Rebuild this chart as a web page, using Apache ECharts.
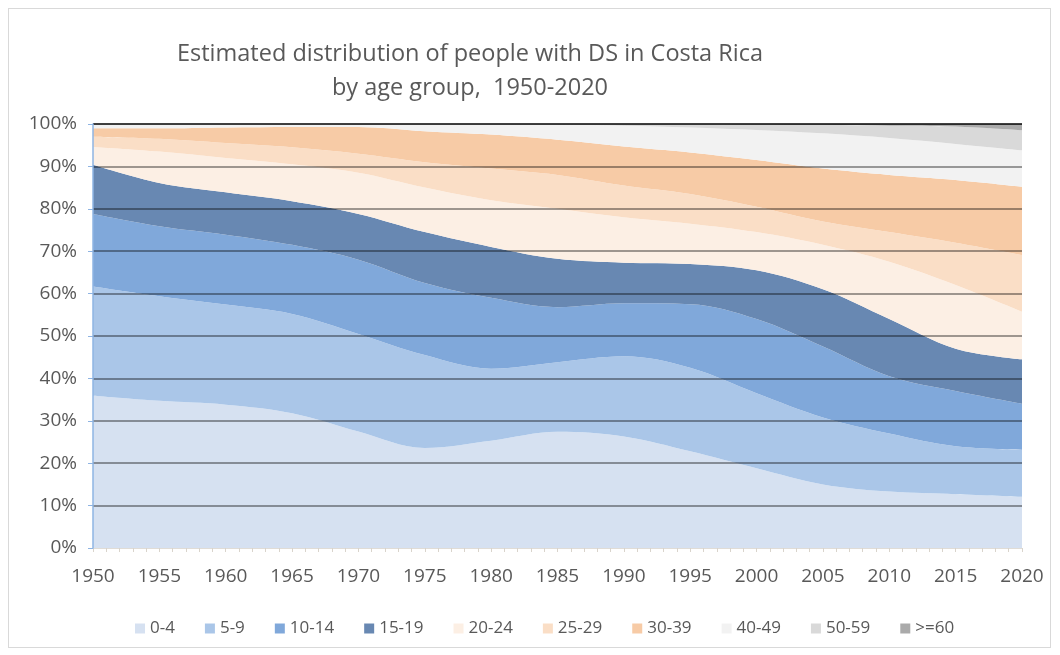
<!DOCTYPE html>
<html>
<head>
<meta charset="utf-8">
<script src="https://cdn.jsdelivr.net/npm/echarts@6/dist/echarts.min.js"></script>
<style>
html,body{margin:0;padding:0;background:#fff;}
#frame{position:absolute;left:8px;top:8px;width:1043px;height:640px;border:1px solid #d9d9d9;box-sizing:border-box;}
#chart{position:absolute;left:0;top:0;width:1060px;height:655px;}
</style>
</head>
<body>
<div id="frame"></div>
<div id="chart"></div>
<script>
// Years (categories)
const years = ['1950','1955','1960','1965','1970','1975','1980','1985','1990','1995','2000','2005','2010','2015','2020'];
// Age groups
const groups = ['0-4','5-9','10-14','15-19','20-24','25-29','30-39','40-49','50-59','>=60'];
// Share (%) of each age group per year
const age0_4   = [35.9,34.7,33.8,31.8,27.5,23.6,25.3,27.4,26.3,22.8,18.8,15.0,13.3,12.7,12.1];
const age5_9   = [25.8,24.7,23.6,23.4,23.0,21.9,17.0,16.4,18.9,19.7,17.7,15.8,13.7,11.3,11.1];
const age10_14 = [17.1,16.5,16.5,16.3,17.5,17.0,16.7,13.0,12.5,15.0,17.5,16.7,13.5,13.0,10.8];
const age15_19 = [11.6,10.2,10.0,10.3,10.8,12.0,12.0,11.4,9.6,9.5,11.5,13.5,13.5,10.0,10.5];
const age20_24 = [4.2,7.4,8.1,8.7,9.7,10.5,11.0,11.8,10.7,9.5,9.0,10.5,13.5,15.0,11.2];
const age25_29 = [2.4,3.0,3.5,4.0,4.5,6.0,7.5,8.0,7.5,7.0,6.0,5.5,7.0,10.0,13.4];
const age30_39 = [2.0,2.5,3.7,4.8,6.3,7.3,8.0,8.3,9.2,9.8,11.0,12.5,13.5,14.8,16.1];
const age40_49 = [1.0,1.0,0.8,0.7,0.6,1.6,2.4,3.5,4.9,5.9,7.1,8.3,8.7,8.5,8.6];
const age50_59 = [0,0,0,0,0.1,0.1,0.1,0.2,0.4,0.8,1.3,2.0,2.9,4.1,4.7];
const age60p   = [0,0,0,0,0,0,0,0,0,0,0.1,0.2,0.4,0.6,1.5];
// y axis tick labels
const yTicks = ['0%','10%','20%','30%','40%','50%','60%','70%','80%','90%','100%'];

const seriesValues = [age0_4,age5_9,age10_14,age15_19,age20_24,age25_29,age30_39,age40_49,age50_59,age60p];
const colors = ['#d6e1f1','#aac6e8','#80a8da','#6888b2','#fcefe4','#fadec6','#f7cba6','#f2f2f2','#d9d9d9','#aaaaaa'];
const textColor = '#595959';
const font = 'Open Sans';

const chart = echarts.init(document.getElementById('chart'), null, {renderer:'canvas'});
const lineColors = ['rgba(0,0,0,0)'];
for (let i = 1; i < 10; i++) lineColors.push('rgba(0,0,0,0.5)');
lineColors.push('#000000');

chart.setOption({
  animation:false,
  color: colors,
  title:{
    text:'Estimated distribution of people with DS in Costa Rica\nby age group,  1950-2020',
    left:465, top:32, textAlign:'center',
    textStyle:{color:textColor, fontFamily:font, fontSize:23.5, fontWeight:'normal', lineHeight:34}
  },
  legend:{
    data:groups, bottom:13, left:130,
    itemWidth:10, itemHeight:10, itemGap:30,
    icon:'rect',
    textStyle:{color:textColor, fontFamily:font, fontSize:17}
  },
  grid:{left:93, right:38, top:124, bottom:107},
  xAxis:[{
    type:'category', data:years, boundaryGap:false, show:false
  },{
    type:'value', min:1950, max:2020, interval:5, position:'bottom',
    axisLine:{show:true, lineStyle:{color:'#e0dcd6', width:1}},
    axisTick:{show:true, length:4, lineStyle:{color:'#d9d4cc'}},
    minorTick:{show:true, splitNumber:5, length:4, lineStyle:{color:'#d9d4cc'}},
    splitLine:{show:false},
    axisLabel:{color:textColor, fontFamily:font, fontSize:19, margin:19, formatter:v=>String(v)}
  }],
  yAxis:{
    type:'value', min:0, max:100, interval:10, z:5,
    axisLine:{show:true, lineStyle:{color:'#8eb4e3', width:1.5}},
    axisTick:{show:true, length:5, lineStyle:{color:'#8eb4e3'}},
    axisLabel:{color:textColor, fontFamily:font, fontSize:19, margin:16,
      formatter:(v)=>yTicks[Math.round(v/10)]},
    splitLine:{show:true, lineStyle:{color:lineColors, width:1.6}}
  },
  series: groups.map((g,i)=>({
    name:g, type:'line', stack:'total', smooth:0.35, showSymbol:false, xAxisIndex:0,
    lineStyle:{width:0}, areaStyle:{opacity:1, color:colors[i]},
    data: seriesValues[i]
  }))
});
</script>
</body>
</html>
